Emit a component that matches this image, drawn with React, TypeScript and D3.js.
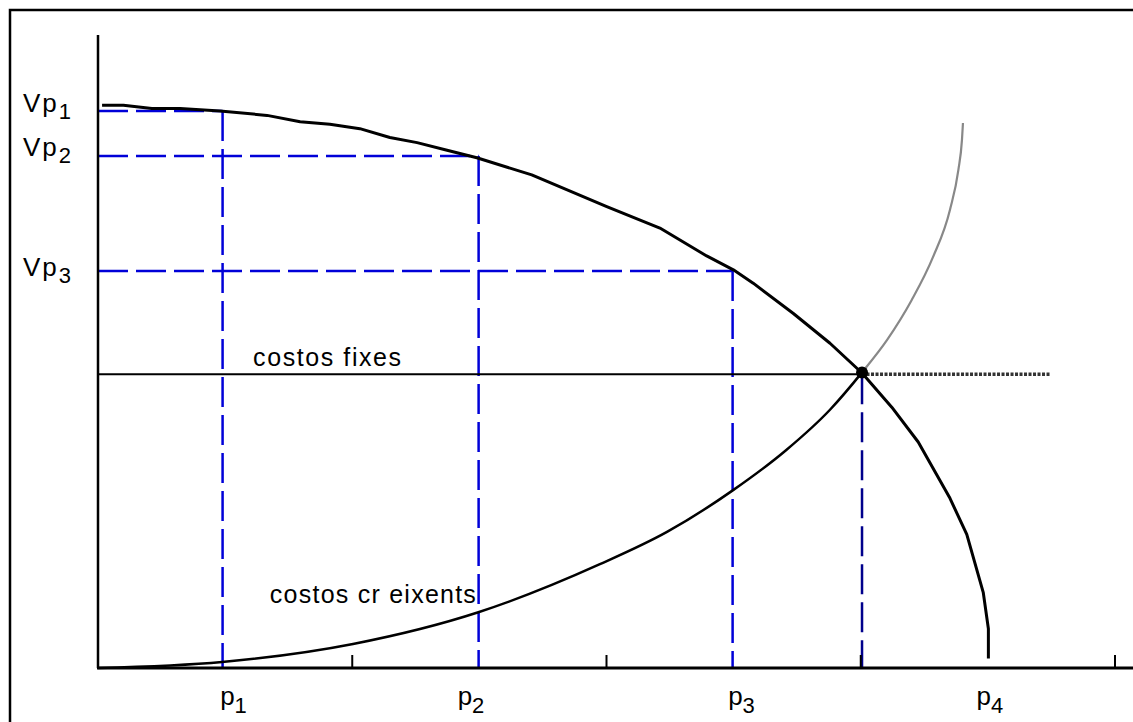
import React from "react";
import * as d3 from "d3";

// ---- data ----
const xTicks = [1, 2, 3, 4];
const pSubscripts = ["1", "2", "3", "4"];
const pLabelX = [0.533, 1.467, 2.531, 3.508];
const vpSubscripts = ["1", "2", "3"];
const vpLevels = [8.8, 8.09, 6.27];
const vpLabelY = [8.79, 8.09, 6.2];
const pValues = [0.49, 1.497, 2.496];
const fixedCost = 4.64;
const equilibriumX = 3.005;
const equilibriumY = 4.67;
const dottedEndX = 3.744;

// decreasing (value) curve
const valueCurve: [number, number][] = [
  [0.016, 8.89], [0.1, 8.89], [0.212, 8.84], [0.323, 8.84], [0.48, 8.8],
  [0.665, 8.73], [0.795, 8.63], [0.912, 8.59], [1.03, 8.52], [1.148, 8.38],
  [1.255, 8.3], [1.373, 8.18], [1.49, 8.06], [1.706, 7.79], [2.001, 7.29],
  [2.21, 6.95], [2.394, 6.51], [2.499, 6.29], [2.577, 6.08], [2.735, 5.6],
  [2.879, 5.13], [3.005, 4.66], [3.122, 4.12], [3.226, 3.57], [3.351, 2.68],
  [3.417, 2.11], [3.482, 1.19], [3.502, 0.62], [3.502, 0.15],
];

// increasing costs curve: black up to the equilibrium, grey beyond it
const costCurve: [number, number][] = [
  [0, 0], [0.488, 0.095], [1.003, 0.38], [1.499, 0.885], [1.974, 1.64],
  [2.238, 2.15], [2.498, 2.81], [2.706, 3.44], [2.879, 4.08], [3.005, 4.67],
  [3.103, 5.18], [3.2, 5.81], [3.284, 6.49], [3.351, 7.24], [3.384, 7.87],
  [3.398, 8.34], [3.402, 8.61],
];

const W = 1133;
const H = 722;
const FONT = "'Liberation Sans', Arial, Helvetica, sans-serif";

export default function App() {
  const x = d3.scaleLinear().domain([0, 4]).range([98, 1115]);
  const y = d3.scaleLinear().domain([0, 10]).range([668, 35]);

  const linear = d3
    .line<[number, number]>()
    .x((d) => x(d[0]))
    .y((d) => y(d[1]))
    .curve(d3.curveLinear);
  const smooth = d3
    .line<[number, number]>()
    .x((d) => x(d[0]))
    .y((d) => y(d[1]))
    .curve(d3.curveMonotoneX);

  const blue = "#0000d8";
  const navy = "#00008c";
  const dash = "30,8";
  const costPath = smooth(costCurve) || "";

  return (
    <svg
      width={W}
      height={H}
      style={{ position: "absolute", left: 0, top: 0, background: "#fff" }}
      fontFamily={FONT}
    >
      <defs>
        <clipPath id="leftOfEq">
          <rect x={0} y={0} width={x(equilibriumX)} height={H} />
        </clipPath>
        <clipPath id="rightOfEq">
          <rect x={x(equilibriumX)} y={0} width={W} height={H} />
        </clipPath>
      </defs>
      <rect x={0} y={0} width={W} height={H} fill="#fff" />
      {/* outer frame */}
      <rect x={10} y={10} width={W + 20} height={H + 20} fill="none" stroke="#000" strokeWidth={2.5} />

      {/* blue dashed guide lines */}
      {vpLevels.map((v, i) => (
        <g key={"g" + i}>
          <line x1={x(0)} x2={x(pValues[i])} y1={y(v)} y2={y(v)} stroke={blue} strokeWidth={2.5} strokeDasharray={dash} />
          <line x1={x(pValues[i])} x2={x(pValues[i])} y1={y(v)} y2={y(0)} stroke={blue} strokeWidth={2.5} strokeDasharray={dash} />
        </g>
      ))}
      <line x1={x(equilibriumX)} x2={x(equilibriumX)} y1={y(fixedCost)} y2={y(0)} stroke={navy} strokeWidth={2.5} strokeDasharray={dash} />

      {/* fixed costs */}
      <line x1={x(0)} x2={x(equilibriumX)} y1={y(fixedCost)} y2={y(fixedCost)} stroke="#000" strokeWidth={2} />
      <line x1={x(equilibriumX)} x2={x(dottedEndX)} y1={y(fixedCost)} y2={y(fixedCost)} stroke="#333" strokeWidth={3.5} strokeDasharray="3,1.5" />

      {/* curves */}
      <path d={costPath} fill="none" stroke="#888" strokeWidth={2.2} clipPath="url(#rightOfEq)" />
      <path d={costPath} fill="none" stroke="#000" strokeWidth={2.5} clipPath="url(#leftOfEq)" />
      <path d={linear(valueCurve) || ""} fill="none" stroke="#000" strokeWidth={3} strokeLinejoin="round" />

      {/* axes */}
      <line x1={x(0)} x2={x(0)} y1={y(10)} y2={y(0)} stroke="#000" strokeWidth={2.5} />
      <line x1={x(0) - 1} x2={x(4.1)} y1={y(0)} y2={y(0)} stroke="#000" strokeWidth={3} />
      {xTicks.map((t) => (
        <line key={"t" + t} x1={x(t)} x2={x(t)} y1={y(0)} y2={y(0) - 13} stroke="#000" strokeWidth={2} />
      ))}

      {/* equilibrium point */}
      <circle cx={x(equilibriumX)} cy={y(equilibriumY)} r={6} fill="#000" />

      {/* Vp labels */}
      {vpLabelY.map((v, i) => (
        <text key={"vp" + i} x={23} y={y(v)} fontSize={26} letterSpacing={2} fill="#000">
          Vp
          <tspan fontSize={22} dy={7}>{vpSubscripts[i]}</tspan>
        </text>
      ))}

      {/* p labels */}
      {pLabelX.map((v, i) => (
        <text key={"p" + i} x={x(v)} y={705} fontSize={26} textAnchor="middle" fill="#000">
          p
          <tspan fontSize={22} dy={8}>{pSubscripts[i]}</tspan>
        </text>
      ))}

      {/* curve labels */}
      <text x={x(0.61)} y={y(4.77)} fontSize={25} textLength={148} lengthAdjust="spacing" fill="#000">
        costos fixes
      </text>
      <text x={x(0.676)} y={y(1.03)} fontSize={25} textLength={206} lengthAdjust="spacing" fill="#000">
        costos cr eixents
      </text>
    </svg>
  );
}
